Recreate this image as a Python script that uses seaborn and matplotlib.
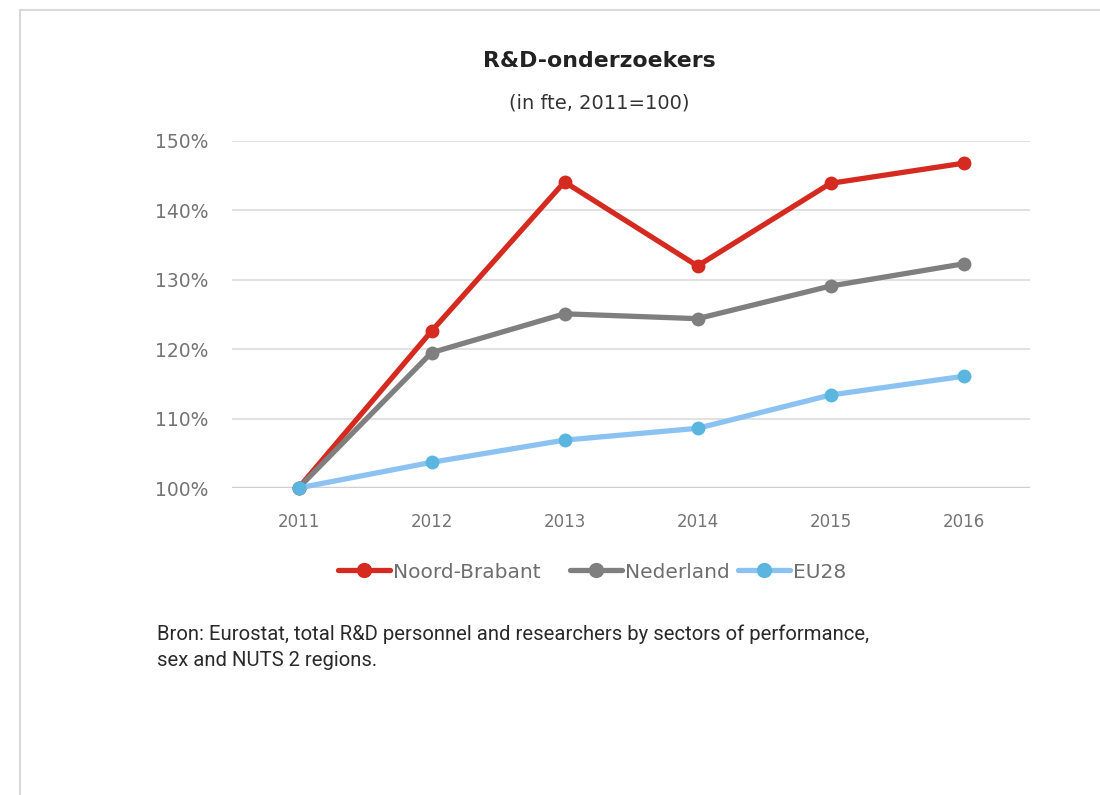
import matplotlib
matplotlib.use("Agg")
import matplotlib.pyplot as plt
from matplotlib.lines import Line2D
import seaborn as sns
import pandas as pd

years = ["2011", "2012", "2013", "2014", "2015", "2016"]
noord_brabant = [100.0, 122.6, 144.1, 132.0, 143.9, 146.8]
nederland = [100.0, 119.5, 125.1, 124.4, 129.1, 132.3]
eu28 = [100.0, 103.7, 106.9, 108.6, 113.4, 116.1]
series_names = ["Noord-Brabant", "Nederland", "EU28"]
y_ticks = [100, 110, 120, 130, 140, 150]

title = "R&D-onderzoekers"
subtitle = "(in fte, 2011=100)"
source = ("Bron: Eurostat, total R&D personnel and researchers by sectors of performance,\n"
          "sex and NUTS 2 regions.")

line_colors = {"Noord-Brabant": "#d42a20", "Nederland": "#7f7f7f", "EU28": "#8cc2f2"}
marker_colors = {"Noord-Brabant": "#d42a20", "Nederland": "#7f7f7f", "EU28": "#5ab6df"}

df = pd.DataFrame({
    "year": years * 3,
    "value": noord_brabant + nederland + eu28,
    "series": [series_names[0]] * 6 + [series_names[1]] * 6 + [series_names[2]] * 6,
})
df["x"] = df["year"].map({y: i for i, y in enumerate(years)})

sns.set_theme(style="white")
plt.rcParams["font.family"] = ["DejaVu Sans"]

W, H = 1100, 795
fig = plt.figure(figsize=(W / 100, H / 100), dpi=100)
fig.patch.set_facecolor("white")

ax = fig.add_axes([232 / W, (H - 488) / H, (1030 - 232) / W, (488 - 141) / H])

sns.lineplot(data=df, x="x", y="value", hue="series", hue_order=series_names,
             palette=line_colors, marker="o", markersize=10, linewidth=3.8,
             markeredgewidth=0, legend=False, ax=ax, zorder=3)

for line, name in zip(ax.get_lines(), series_names):
    line.set_markerfacecolor(marker_colors[name])
    line.set_markeredgecolor(marker_colors[name])
    line.set_clip_on(False)

ax.set_xlim(-0.5, 5.5)
ax.set_ylim(100, 150)
ax.set_xticks(range(len(years)))
ax.set_xticklabels(years)
ax.set_yticks(y_ticks)
ax.set_yticklabels([f"{t}%" for t in y_ticks])
ax.set_xlabel("")
ax.set_ylabel("")
for s in ax.spines.values():
    s.set_visible(False)
ax.grid(axis="y", color="#dcdcdc", linewidth=1.2)
ax.set_axisbelow(True)
ax.axhline(100, color="#d0d0d0", linewidth=2.5, zorder=1)
ax.tick_params(axis="both", length=0, labelcolor="#747474")
ax.tick_params(axis="y", pad=17, labelsize=13.5)
ax.tick_params(axis="x", pad=18, labelsize=12)

# titles
fig.text(599 / W, 1 - 61 / H, title, ha="center", va="center",
         fontsize=15.8, fontweight="bold", color="#222222")
fig.text(599 / W, 1 - 103 / H, subtitle, ha="center", va="center",
         fontsize=14, color="#333333")

# legend: one entry per box so each item sits at its own spot
legend_x = [338, 570, 738]
for name, lx in zip(series_names, legend_x):
    handle = Line2D([0], [0], color=line_colors[name], linewidth=3.8, marker="o",
                    markersize=10, markerfacecolor=marker_colors[name],
                    markeredgecolor=marker_colors[name])
    fig.legend([handle], [name], loc="center left", bbox_to_anchor=(lx / W, 1 - 572 / H),
               frameon=False, fontsize=14.5, labelcolor="#6e6e6e", borderpad=0,
               borderaxespad=0, handlelength=2.6, handletextpad=0.12)

# source note
fig.text(157 / W, 1 - 624 / H, source, ha="left", va="top", fontsize=14.6,
         color="#2a2a2a", linespacing=1.5, family=["Roboto", "DejaVu Sans"])

# page frame
fig.add_artist(Line2D([20 / W, 1.0], [1 - 9.5 / H, 1 - 9.5 / H], color="#d9d9d9", linewidth=1.5))
fig.add_artist(Line2D([20 / W, 20 / W], [0, 1 - 9.5 / H], color="#d9d9d9", linewidth=1.5))

fig.savefig("out.png", dpi=100, facecolor="white")
